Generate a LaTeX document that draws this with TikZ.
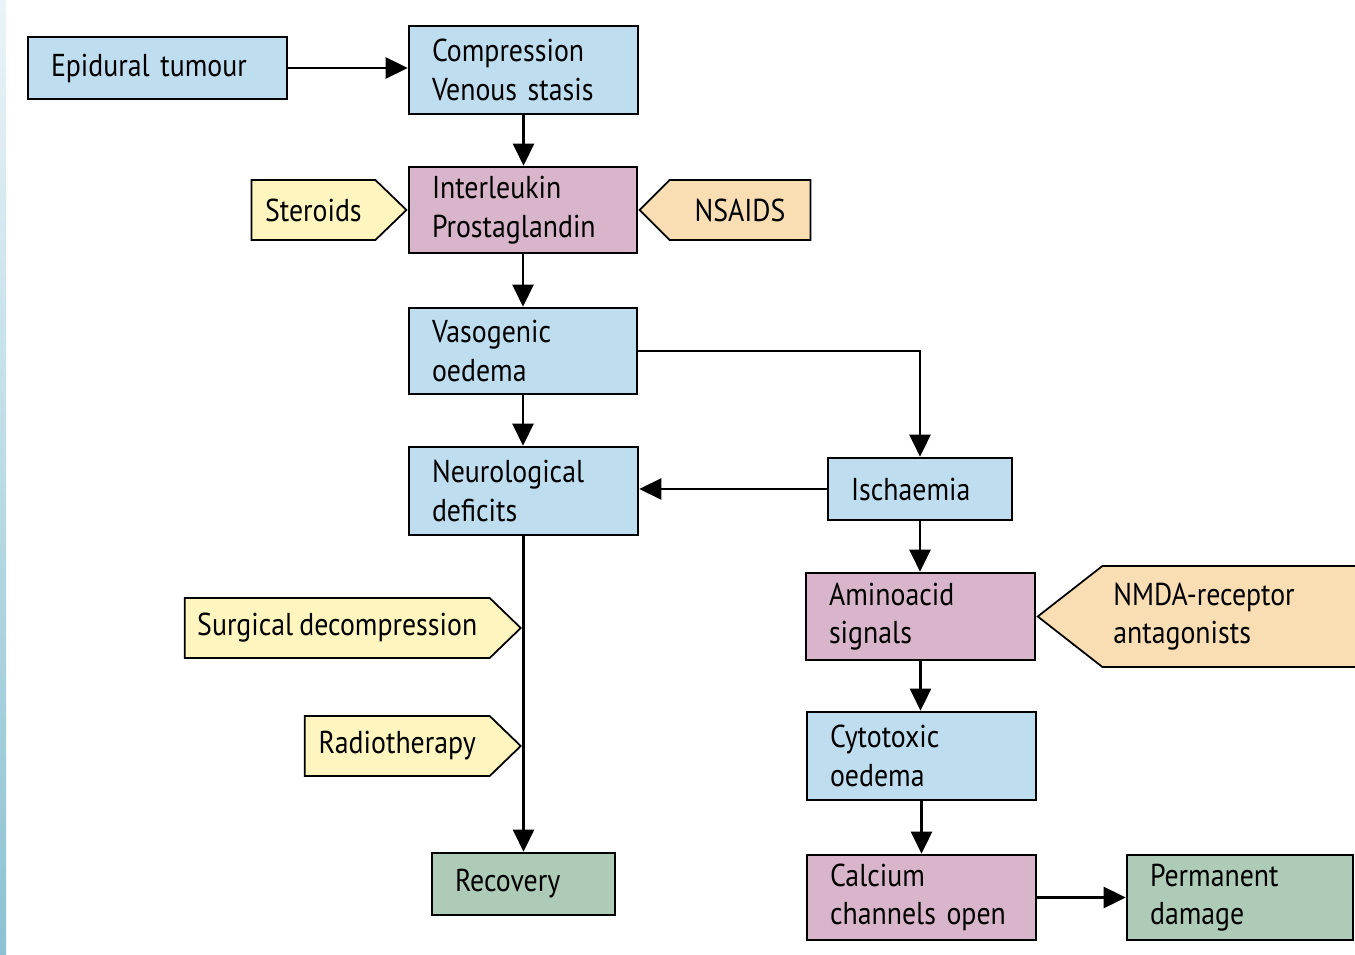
\documentclass[tikz,border=0pt]{standalone}
\usepackage{fontspec}
\setmainfont{PT Sans}[FakeStretch=0.88, WordSpace=0.8]
\usetikzlibrary{arrows.meta,positioning,shapes.symbols}
\definecolor{cblue}{HTML}{BEDDEE}
\definecolor{cpink}{HTML}{D9B5CB}
\definecolor{cgreen}{HTML}{ADCBB7}
\definecolor{cyellow}{HTML}{FFF6BF}
\definecolor{cpeach}{HTML}{F9DEB4}
\definecolor{cstripa}{HTML}{EAF4F8}
\definecolor{cstripb}{HTML}{8CC2D2}
\tikzset{
  stage/.style={draw, line width=1.5pt, rectangle, inner xsep=0.46cm, inner ysep=0pt,
    align=left, font=\fontsize{18}{22}\selectfont},
  drug/.style={draw, line width=1pt, shape=signal, signal from=nowhere, inner xsep=0pt,
    inner ysep=0pt, align=center, font=\fontsize{18}{22}\selectfont},
  arr/.style={line width=1.5pt, -{Triangle[length=0.44cm,width=0.42cm]}},
}
\begin{document}
\begin{tikzpicture}[x=0.02cm, y=-0.02cm]
\clip (0,0) rectangle (1355,955);
\fill[white] (0,0) rectangle (1355,955);
\shade[top color=cstripa, bottom color=cstripb] (0,0) rectangle (6,955);
% main chain
\node[stage, fill=cblue, minimum height=1.24cm, text width=4.26cm] (epi) at (157.5,68) {Epidural tumour};
\node[stage, fill=cblue, minimum height=1.76cm, text width=3.66cm] (comp) at (523.5,70) {Compression\\Venous stasis};
\node[stage, fill=cpink, minimum height=1.72cm, text width=3.64cm] (inter) at (523,210) {Interleukin\\Prostaglandin};
\node[stage, fill=cblue, minimum height=1.72cm, text width=3.64cm] (vaso) at (523,351) {Vasogenic\\oedema};
\node[stage, fill=cblue, minimum height=1.76cm, text width=3.66cm] (neuro) at (523.5,491) {Neurological\\deficits};
\node[stage, fill=cgreen, minimum height=1.24cm, text width=2.74cm] (recov) at (523.5,884) {Recovery};
% ischaemic branch
\node[stage, fill=cblue, minimum height=1.24cm, text width=2.76cm] (isch) at (920,489) {Ischaemia};
\node[stage, fill=cpink, minimum height=1.74cm, text width=3.66cm] (amino) at (920.5,616.5) {Aminoacid\\signals};
\node[stage, fill=cblue, minimum height=1.76cm, text width=3.66cm] (cyto) at (921.5,756) {Cytotoxic\\oedema};
\node[stage, fill=cpink, minimum height=1.70cm, text width=3.66cm] (calc) at (921.5,897.5) {Calcium\\channels open};
\node[stage, fill=cgreen, minimum height=1.70cm, text width=3.60cm] (perm) at (1240,897.5) {Permanent\\damage};
% treatments
\node[drug, fill=cyellow, signal to=east, signal pointer angle=88, minimum width=3.1cm,
  minimum height=1.2cm, left=0pt of inter] (ster) {Steroids};
\node[drug, fill=cpeach, signal to=west, signal pointer angle=90, minimum width=3.42cm,
  minimum height=1.2cm, right=0pt of inter] (nsaid) {NSAIDS};
\node[drug, fill=cpeach, signal to=west, signal pointer angle=76, minimum height=2.02cm,
  inner xsep=0.22cm, text width=5.5cm, align=left, right=0pt of amino] (nmda) {NMDA-receptor\\antagonists};
\node[drug, fill=cyellow, signal to=east, signal pointer angle=88, minimum width=6.72cm,
  minimum height=1.2cm, anchor=east] (surg) at (522,628) {Surgical decompression};
\node[drug, fill=cyellow, signal to=east, signal pointer angle=88, minimum width=4.32cm,
  minimum height=1.2cm, anchor=east] (radio) at (522,746) {Radiotherapy};
% arrows
\draw[arr] (epi.east) -- (epi.east -| comp.west);
\draw[arr] (comp.south) -- (comp.south |- inter.north);
\draw[arr] (inter.south) -- (inter.south |- vaso.north);
\draw[arr] (vaso.south) -- (vaso.south |- neuro.north);
\draw[arr] (vaso.east) -| (isch.north);
\draw[arr] (isch.west) -- (isch.west -| neuro.east);
\draw[arr] (neuro.south) -- (neuro.south |- recov.north);
\draw[arr] (isch.south) -- (isch.south |- amino.north);
\draw[arr] (amino.south) -- (amino.south |- cyto.north);
\draw[arr] (cyto.south) -- (cyto.south |- calc.north);
\draw[arr] (calc.east) -- (perm.west);
\end{tikzpicture}
\end{document}
